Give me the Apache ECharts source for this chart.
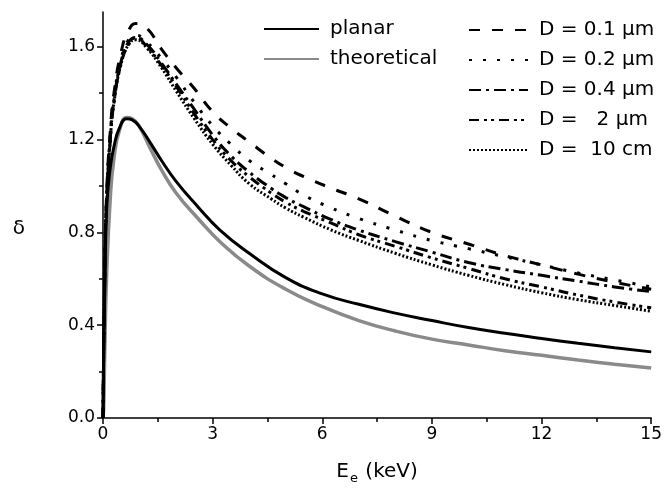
<!DOCTYPE html>
<html>
<head>
<meta charset="utf-8">
<script src="https://cdn.jsdelivr.net/npm/echarts@6/dist/echarts.min.js"></script>
<style>
  html, body { margin: 0; padding: 0; background: #fff; }
  #chart { width: 665px; height: 496px; }
</style>
</head>
<body>
<div id="chart"></div>
<script>
// energy grid (keV) for planar / theoretical curves
const xCurve = [0, 0.02, 0.05, 0.1, 0.2, 0.3, 0.45, 0.65, 0.8, 1.0, 1.3, 1.6, 2, 2.6, 3.2, 4, 5, 6, 7, 8, 9, 10, 11, 12, 13, 14, 15];
const planar = [0, 0.3, 0.55, 0.9, 1.08, 1.17, 1.25, 1.29, 1.285, 1.255, 1.185, 1.11, 1.02, 0.91, 0.81, 0.71, 0.605, 0.535, 0.49, 0.452, 0.42, 0.39, 0.365, 0.343, 0.322, 0.303, 0.285];
const theoretical = [0, 0.05, 0.3, 0.62, 0.95, 1.12, 1.24, 1.295, 1.29, 1.255, 1.16, 1.07, 0.97, 0.86, 0.76, 0.655, 0.555, 0.48, 0.42, 0.375, 0.34, 0.315, 0.29, 0.27, 0.25, 0.232, 0.216];

// energy grid (keV) for the film thickness curves
const xFilm = [0, 0.05, 0.1, 0.2, 0.3, 0.5, 0.7, 0.9, 1.2, 1.6, 2, 2.5, 3, 3.5, 4, 4.6, 5, 5.5, 6.25, 7, 8, 9, 10, 11, 12, 13, 14, 15];
const d01um = [0, 0.66, 0.97, 1.24, 1.4, 1.58, 1.67, 1.70, 1.68, 1.59, 1.51, 1.42, 1.32, 1.25, 1.19, 1.12, 1.08, 1.04, 0.99, 0.945, 0.87, 0.80, 0.75, 0.70, 0.66, 0.62, 0.585, 0.555];
const d02um = [0, 0.65, 0.95, 1.22, 1.38, 1.55, 1.63, 1.65, 1.62, 1.55, 1.47, 1.36, 1.26, 1.18, 1.11, 1.05, 1.01, 0.96, 0.905, 0.86, 0.81, 0.765, 0.73, 0.695, 0.66, 0.625, 0.595, 0.565];
const d04um = [0, 0.65, 0.95, 1.21, 1.37, 1.54, 1.62, 1.64, 1.61, 1.53, 1.44, 1.33, 1.22, 1.13, 1.06, 0.99, 0.95, 0.91, 0.855, 0.81, 0.76, 0.715, 0.67, 0.64, 0.615, 0.59, 0.565, 0.545];
const d2um = [0, 0.64, 0.94, 1.2, 1.36, 1.53, 1.61, 1.64, 1.60, 1.52, 1.43, 1.31, 1.20, 1.11, 1.04, 0.97, 0.93, 0.89, 0.84, 0.79, 0.74, 0.69, 0.645, 0.6, 0.565, 0.53, 0.5, 0.475];
const d10cm = [0, 0.63, 0.93, 1.2, 1.36, 1.53, 1.61, 1.63, 1.595, 1.51, 1.41, 1.29, 1.18, 1.09, 1.01, 0.945, 0.905, 0.865, 0.81, 0.765, 0.71, 0.66, 0.615, 0.575, 0.54, 0.51, 0.485, 0.46];

const yMajor = [0, 0.4, 0.8, 1.2, 1.6];
const yMinor = [0.2, 0.6, 1.0, 1.4];

const font = 'DejaVu Sans';
const pairs = (xs, ys) => xs.map((x, i) => [x, ys[i]]);

function curve(name, xs, ys, color, width, dash) {
  return {
    name,
    type: 'line',
    data: pairs(xs, ys),
    showSymbol: false,
    symbol: 'none',
    smooth: 0.5,
    lineStyle: { color, width, type: dash },
    itemStyle: { color },
    animation: false,
  };
}

const legendText = { fontFamily: font, fontSize: 20, color: '#000', padding: [0, 0, 0, 6] };

const chart = echarts.init(document.getElementById('chart'));
chart.setOption({
  backgroundColor: '#fff',
  animation: false,
  grid: { left: 103, right: 10, top: 12, bottom: 78 },
  legend: [{
    data: ['planar', 'theoretical'],
    orient: 'vertical',
    left: 258,
    top: 14,
    itemWidth: 55,
    itemHeight: 14,
    itemGap: 10,
    itemStyle: { opacity: 0 },
    textStyle: legendText,
  }, {
    data: ['D = 0.1 μm', 'D = 0.2 μm', 'D = 0.4 μm', 'D =   2 μm', 'D =  10 cm'],
    orient: 'vertical',
    left: 463,
    top: 15,
    itemWidth: 59,
    itemHeight: 14,
    itemGap: 10,
    itemStyle: { opacity: 0 },
    textStyle: legendText,
  }],
  xAxis: {
    type: 'value',
    min: 0,
    max: 15,
    interval: 3,
    name: '{a|E}{s|e}{a| (keV)}',
    nameLocation: 'middle',
    nameGap: 40,
    nameTextStyle: {
      rich: {
        a: { fontFamily: font, fontSize: 20, color: '#000', lineHeight: 24 },
        s: { fontFamily: font, fontSize: 13, color: '#000', padding: [14, 1, 0, 1] },
      },
    },
    axisLine: { onZero: false, lineStyle: { color: '#000', width: 1.5 } },
    axisTick: { inside: false, length: 6, lineStyle: { color: '#000', width: 1.5 } },
    minorTick: { show: true, splitNumber: 2, length: 4, lineStyle: { color: '#000', width: 1.5 } },
    axisLabel: { fontFamily: font, fontSize: 17, color: '#000', margin: 8 },
    splitLine: { show: false },
  },
  yAxis: [{
    type: 'value',
    min: 0,
    max: 1.75,
    name: 'δ',
    nameLocation: 'middle',
    nameRotate: 0,
    nameGap: 78,
    nameTextStyle: { fontFamily: font, fontSize: 20, color: '#000', verticalAlign: 'top', padding: [4, 0, 0, 0] },
    axisLine: { onZero: false, lineStyle: { color: '#000', width: 1.5 } },
    axisTick: { length: 6, customValues: yMajor, lineStyle: { color: '#000', width: 1.5 } },
    axisLabel: {
      fontFamily: font, fontSize: 17, color: '#000', margin: 8,
      customValues: yMajor,
      formatter: (v) => v.toFixed(1),
    },
    splitLine: { show: false },
  }, {
    // second left axis only carries the minor ticks
    type: 'value',
    min: 0,
    max: 1.75,
    position: 'left',
    axisLine: { show: false },
    axisTick: { length: 4, customValues: yMinor, lineStyle: { color: '#000', width: 1.5 } },
    axisLabel: { show: false },
    splitLine: { show: false },
  }],
  series: [
    curve('theoretical', xCurve, theoretical, '#8a8a8a', 3.5, 'solid'),
    curve('planar', xCurve, planar, '#000', 3, 'solid'),
    curve('D =  10 cm', xFilm, d10cm, '#000', 3, [2, 2]),
    curve('D =   2 μm', xFilm, d2um, '#000', 3, [10, 5, 3, 4, 3, 5]),
    curve('D = 0.4 μm', xFilm, d04um, '#000', 3, [12, 5, 3, 5]),
    curve('D = 0.2 μm', xFilm, d02um, '#000', 3, [3, 11]),
    curve('D = 0.1 μm', xFilm, d01um, '#000', 3, [11, 12]),
  ],
});
</script>
</body>
</html>
